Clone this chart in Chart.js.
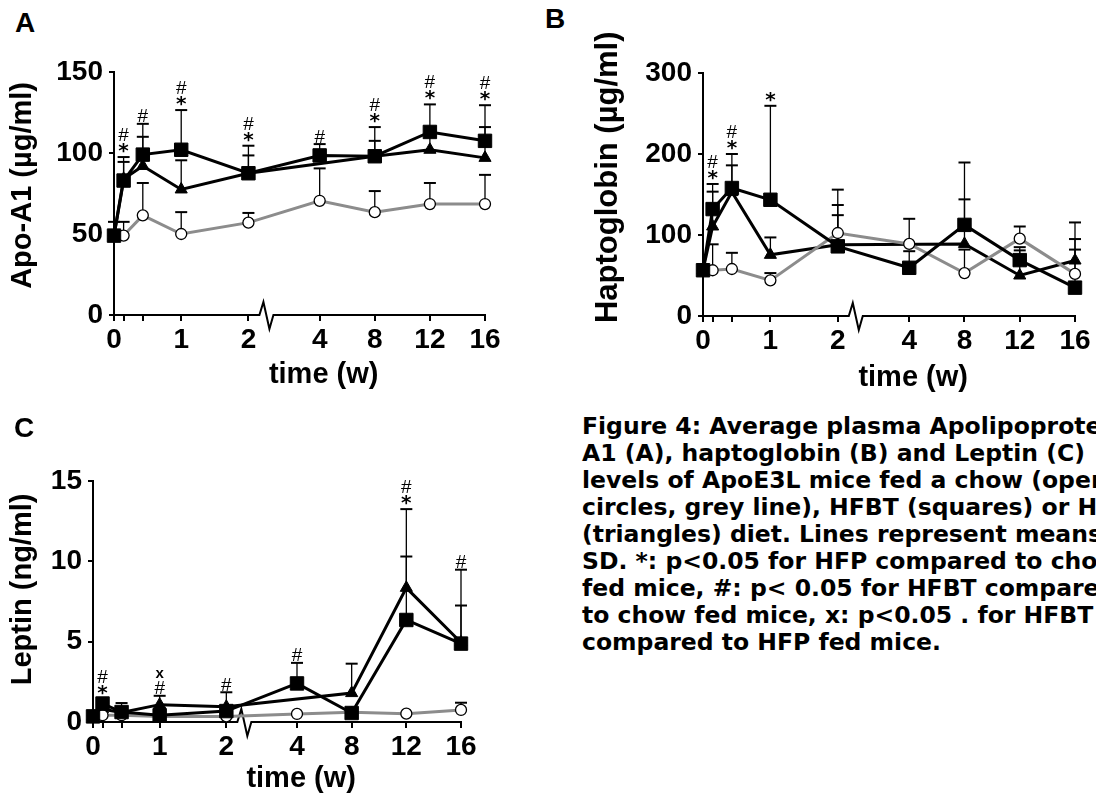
<!DOCTYPE html>
<html>
<head>
<meta charset="utf-8">
<script src="https://cdn.jsdelivr.net/npm/chart.js@4.4.0/dist/chart.umd.min.js"></script>
<style>
  body { margin: 0; width: 1096px; height: 798px; overflow: hidden; background: #fff; position: relative; }
  canvas { position: absolute; }
  .letra { position: absolute; font: bold 28px "Liberation Sans", Arial, sans-serif; line-height: 28px; }
  #caption { position: absolute; left: 582px; top: 413px; font: bold 23.5px "DejaVu Sans", sans-serif; line-height: 27px;
             white-space: pre; color: #000; }
</style>
</head>
<body>
<canvas id="chartA" width="510" height="360" style="left:0;top:40px"></canvas>
<canvas id="chartB" width="506" height="395" style="left:590px;top:5px"></canvas>
<canvas id="chartC" width="500" height="358" style="left:0;top:440px"></canvas>

<div class="letra" style="left:15px;top:9px">A</div>
<div class="letra" style="left:545px;top:5px">B</div>
<div class="letra" style="left:14px;top:414px">C</div>

<div id="caption">Figure 4: Average plasma Apolipoprotein
A1 (A), haptoglobin (B) and Leptin (C)
levels of ApoE3L mice fed a chow (open
circles, grey line), HFBT (squares) or HFP
(triangles) diet. Lines represent means ±
SD. *: p&lt;0.05 for HFP compared to chow
fed mice, #: p&lt; 0.05 for HFBT compared
to chow fed mice, x: p&lt;0.05 . for HFBT
compared to HFP fed mice.</div>

<script>
// tiempos (semanas): 0, 1 dia, 3 dias, 1, 2, 4, 8, 12, 16
const weeks = [0, 1 / 7, 3 / 7, 1, 2, 4, 8, 12, 16];
const tickWeeks = [0, 1 / 7, 3 / 7, 1, 2, 4, 8, 12, 16];
const tickLabels = ['0', '', '', '1', '2', '4', '8', '12', '16'];

// A - Apo-A1 (ug/ml)
const apoChow = [49, 49, 61.5, 50, 57, 70.5, 63.5, 68.5, 68.5];
const apoChowSD = [null, 8.5, 20, 13.5, 6, 20, 13, 13, 18];
const apoHFBT = [49, 83, 99, 102, 87.5, 98.5, 98, 113, 107.5];
const apoHFBTSD = [8.5, 14.5, 19, 24.5, 17, 7, 18, 17, 22];
const apoHFP = [49, 84, 92, 77.5, 87.5, null, 98, 102, 97];
const apoHFPSD = [null, 10.5, 18, 18, 11, null, 9.5, 10, 19];
const apoSig = ['', '*#', '#', '*#', '*#', '#', '*#', '*#', '*#'];

// B - haptoglobina (ug/ml)
const hapChow = [56.5, 56.5, 58, 44, 102.5, 89, 53, 95.5, 52];
const hapChowSD = [null, 32, 20, 9, 22, 31, 29, 15, 43];
const hapHFBT = [56.5, 132, 158, 143.5, 86, 59.5, 112.5, 69, 35];
const hapHFBTSD = [null, 31, 42, 116, 70, 20.5, 77, 16, 47];
const hapHFP = [56.5, 110.5, 153, 75.5, 88, null, 89, 50, 68.5];
const hapHFPSD = [null, 43, 33, 21.5, 49, null, 55, 31, 47];
const hapSig = ['', '*#', '*#', '*', '', '', '', '', ''];

// C - leptina (ng/ml)
const lepChow = [0.4, 0.42, 0.42, 0.35, 0.35, 0.5, 0.6, 0.52, 0.75];
const lepChowSD = [null, null, null, null, null, null, null, null, 0.45];
const lepHFBT = [0.35, 1.15, 0.62, 0.42, 0.68, 2.4, 0.56, 6.35, 4.88];
const lepHFBTSD = [null, 0.3, 0.56, null, null, 1.28, null, 3.95, 4.6];
const lepHFP = [0.35, 0.8, 0.6, 1.08, 0.95, null, 1.8, 8.35, 4.95];
const lepHFPSD = [null, null, null, 0.55, 0.9, null, 1.83, 4.9, 2.3];
const lepSig = ['', '*#', '', '#x', '#', '#', '', '*#', '#'];

// eje x cortado entre 2 y 4 semanas
function toAxis(t) {
    return t <= 2 ? t : 2 + 1.06 + (t - 4) / 4 * 0.82;
}

const FONT = '"Liberation Sans", Arial, sans-serif';
const symFont = { '*': 'bold 20px "DejaVu Sans"', '#': '19px "Liberation Sans"', 'x': 'bold 15px "Liberation Sans"' };
const firstGap = { '*': 9, '#': 8, 'x': 8 };

function symbol(ctx, ch, cx, cy) {
    ctx.font = symFont[ch];
    ctx.textAlign = 'center';
    ctx.textBaseline = 'alphabetic';
    const m = ctx.measureText(ch);
    ctx.fillText(ch, cx, cy + (m.actualBoundingBoxAscent - m.actualBoundingBoxDescent) / 2);
}

const extras = {
    id: 'extras',
    beforeDatasetsDraw(chart) {
        const ctx = chart.ctx, xs = chart.scales.x, ys = chart.scales.y;
        const y0 = ys.getPixelForValue(0);
        const x2 = xs.getPixelForValue(toAxis(2));
        ctx.save();
        ctx.strokeStyle = '#000';
        // eje x con el corte
        ctx.lineWidth = 2;
        ctx.beginPath();
        ctx.moveTo(xs.left - 1, y0);
        ctx.lineTo(x2 + 11, y0);
        ctx.lineTo(x2 + 15, y0 - 13);
        ctx.lineTo(x2 + 21, y0 + 14);
        ctx.lineTo(x2 + 25, y0);
        ctx.lineTo(xs.right + 1, y0);
        ctx.stroke();
        // barras de error (solo hacia arriba)
        chart.data.datasets.forEach(ds => {
            ds.data.forEach((p, i) => {
                const sd = ds.sd[i];
                if (p.y == null || sd == null) return;
                const px = xs.getPixelForValue(p.x);
                const top = ys.getPixelForValue(p.y + sd);
                ctx.lineWidth = 1.3;
                ctx.beginPath();
                ctx.moveTo(px, ys.getPixelForValue(p.y));
                ctx.lineTo(px, top);
                ctx.stroke();
                ctx.lineWidth = 2;
                ctx.beginPath();
                ctx.moveTo(px - 6, top);
                ctx.lineTo(px + 6, top);
                ctx.stroke();
            });
        });
        ctx.restore();
    },
    afterDatasetsDraw(chart, args, opts) {
        // marcas * # x
        const ctx = chart.ctx, xs = chart.scales.x, ys = chart.scales.y;
        ctx.save();
        ctx.fillStyle = '#000';
        opts.sig.forEach((s, i) => {
            if (!s) return;
            let top = 0;
            chart.data.datasets.forEach(ds => {
                const v = ds.data[i].y;
                if (v == null) return;
                top = Math.max(top, v + (ds.sd[i] || 0));
            });
            const px = xs.getPixelForValue(toAxis(weeks[i]));
            let py = ys.getPixelForValue(top);
            s.split('').forEach((ch, k) => {
                py -= k === 0 ? firstGap[ch] : 13.5;
                symbol(ctx, ch, px, py);
            });
        });
        ctx.restore();
    }
};

function serie(vals) {
    return weeks.map((t, i) => ({ x: toAxis(t), y: vals[i] }));
}

function makeChart(id, c) {
    new Chart(document.getElementById(id), {
        type: 'line',
        data: {
            datasets: [
                { data: serie(c.hfbt), sd: c.hfbtSD, borderColor: '#000', borderWidth: 3, pointStyle: 'rect',
                  pointRadius: 9.5, pointBackgroundColor: '#000', pointBorderColor: '#000', pointBorderWidth: 1 },
                { data: serie(c.chow), sd: c.chowSD, borderColor: '#8c8c8c', borderWidth: 3, pointStyle: 'circle',
                  pointRadius: 5.5, pointBackgroundColor: '#fff', pointBorderColor: '#000', pointBorderWidth: 1.3 },
                { data: serie(c.hfp), sd: c.hfpSD, borderColor: '#000', borderWidth: 3, pointStyle: 'triangle',
                  pointRadius: 7, pointBackgroundColor: '#000', pointBorderColor: '#000', pointBorderWidth: 1 }
            ]
        },
        options: {
            responsive: false,
            animation: false,
            events: [],
            layout: { padding: { left: 0, top: c.padTop, right: c.padRight, bottom: 0 } },
            datasets: { line: { tension: 0, spanGaps: true, clip: false } },
            plugins: { legend: { display: false }, tooltip: { enabled: false }, extras: { sig: c.sig } },
            scales: {
                x: {
                    type: 'linear', min: 0, max: toAxis(16),
                    afterBuildTicks: s => { s.ticks = tickWeeks.map(t => ({ value: toAxis(t) })); },
                    afterFit: s => { s.height = c.xHeight; },
                    grid: { drawOnChartArea: false, tickLength: 6, color: '#000', lineWidth: 2 },
                    border: { display: false },
                    ticks: { autoSkip: false, maxRotation: 0, minRotation: 0, padding: 2, color: '#000',
                             font: { family: FONT, size: 28, weight: 'bold' },
                             callback: (v, i) => tickLabels[i] },
                    title: { display: true, text: '      time (w)', color: '#000',
                             font: { family: FONT, size: 29, weight: 'bold' }, padding: { top: 0, bottom: c.xTitlePad } }
                },
                y: {
                    min: 0, max: c.yMax,
                    afterFit: s => { s.width = c.yWidth; },
                    grid: { drawOnChartArea: false, tickLength: 5, color: '#000', lineWidth: 2 },
                    border: { display: true, color: '#000', width: 2 },
                    ticks: { stepSize: c.yStep, padding: 6, color: '#000',
                             font: { family: FONT, size: 28, weight: 'bold' } },
                    title: { display: true, text: c.yTitle, color: '#000',
                             font: { family: FONT, size: c.yTitleSize, weight: 'bold' }, padding: { top: c.yTitlePad, bottom: 0 } }
                }
            }
        },
        plugins: [extras]
    });
}

makeChart('chartA', {
    chow: apoChow, chowSD: apoChowSD, hfbt: apoHFBT, hfbtSD: apoHFBTSD, hfp: apoHFP, hfpSD: apoHFPSD, sig: apoSig,
    yMax: 150, yStep: 50, yTitle: '  Apo-A1 (\u00b5g/ml)', yTitleSize: 29, yTitlePad: 5.4,
    padTop: 32, padRight: 25, yWidth: 114, xHeight: 85, xTitlePad: 7.6
});

makeChart('chartB', {
    chow: hapChow, chowSD: hapChowSD, hfbt: hapHFBT, hfbtSD: hapHFBTSD, hfp: hapHFP, hfpSD: hapHFPSD, sig: hapSig,
    yMax: 300, yStep: 100, yTitle: '    Haptoglobin (\u00b5g/ml)', yTitleSize: 31, yTitlePad: 0,
    padTop: 68, padRight: 21, yWidth: 113, xHeight: 84, xTitlePad: 4.6
});

makeChart('chartC', {
    chow: lepChow, chowSD: lepChowSD, hfbt: lepHFBT, hfbtSD: lepHFBTSD, hfp: lepHFP, hfpSD: lepHFPSD, sig: lepSig,
    yMax: 15, yStep: 5, yTitle: '   Leptin (ng/ml)', yTitleSize: 29, yTitlePad: 5.4,
    padTop: 41, padRight: 39, yWidth: 93, xHeight: 76, xTitlePad: 1.6
});
</script>
</body>
</html>
